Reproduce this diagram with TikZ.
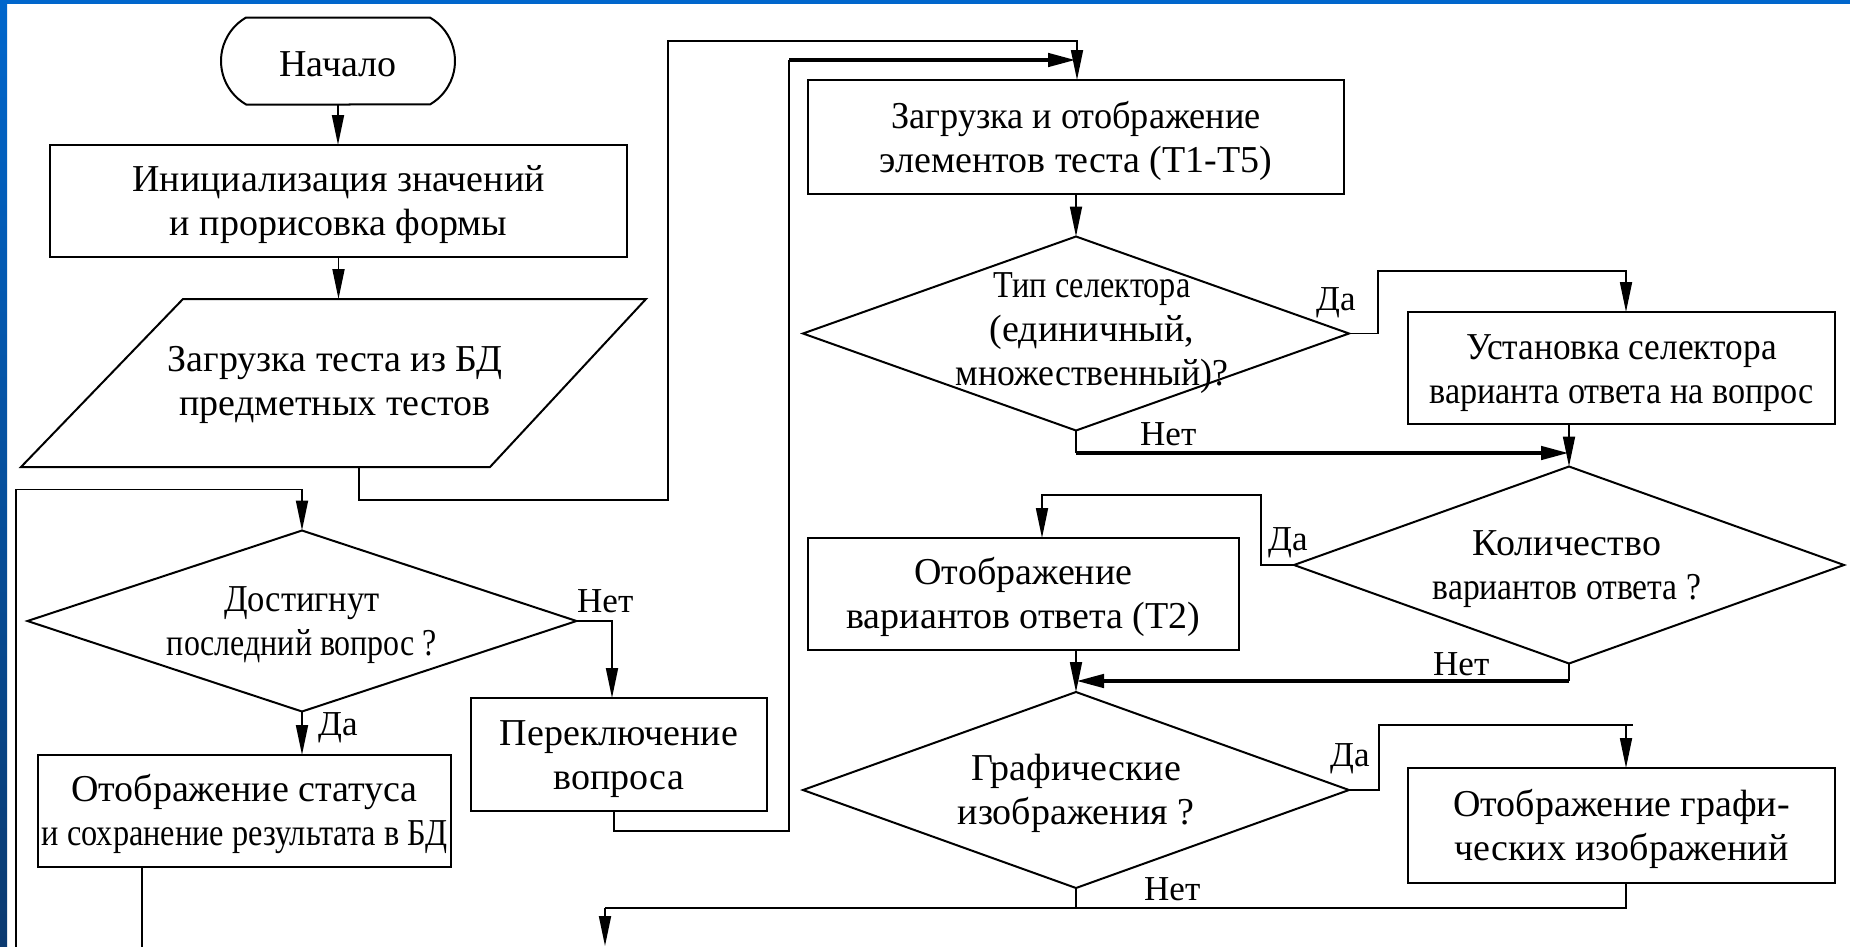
\documentclass[tikz,border=0pt]{standalone}
\usepackage{fontspec}
\setmainfont{Liberation Serif}
\usetikzlibrary{shapes.geometric,shapes.misc,arrows.meta,calc}

\definecolor{slideblue}{HTML}{0066CC}
\definecolor{slidenavy}{HTML}{0B3A70}

% horizontally condensed line of text
\newcommand{\nrw}[2]{\scalebox{#1}[1]{#2}}

\tikzset{
  base/.style={draw=black, line width=2bp, inner sep=0pt, outer sep=0pt},
  procbox/.style={base, rectangle},
  termbox/.style={base, rounded rectangle, rounded rectangle arc length=120},
  decbox/.style={base, diamond},
  outline/.style={draw=black, line width=2bp, line join=miter},
  txt/.style={inner sep=0pt, font=\fontsize{38bp}{44bp}\selectfont, align=center},
  lbl/.style={inner sep=0pt, anchor=base west, font=\fontsize{35bp}{40bp}\selectfont},
  flow/.style={line width=1.8bp, -{Triangle[length=30bp,width=12bp]}},
  wire/.style={line width=1.8bp},
  wirebold/.style={line width=2.4bp},
  heavy/.style={line width=4.5bp, -{Triangle[length=28bp,width=13bp]}},
}

\begin{document}
\begin{tikzpicture}[x=1bp, y=-1bp]
  % slide background with frame
  \useasboundingbox (0,0) rectangle (1850,946);
  \fill[white] (0,0) rectangle (1850,946);
  \shade[top color=slideblue, bottom color=slidenavy] (0,0) rectangle (7,946);
  \fill[slideblue] (0,0) rectangle (1850,4);

  % ---- left column ----
  \node[termbox, minimum width=234bp, minimum height=87bp] (start) at (338,61) {};
  \node[txt] (startt) at ([yshift=-3bp]start.center) {Начало};

  \node[procbox, minimum width=577bp, minimum height=112bp] (init) at (338.5,201) {};
  \node[txt] (initt) at ([yshift=-4bp]init.center)
    {Инициализация значений\\и прорисовка формы};

  % data input (parallelogram)
  \coordinate (ioTL) at (183,299);
  \coordinate (ioTR) at (646,299);
  \coordinate (ioBR) at (490,467);
  \coordinate (ioBL) at (21,467);
  \draw[outline] (ioBL) -- (ioBR) -- (ioTR) -- (ioTL) -- cycle;
  \node[txt] (load) at (335,385) {Загрузка теста из БД\\предметных тестов};

  \node[decbox, minimum width=549bp, minimum height=181bp] (d1) at (302,621) {};
  \node[txt] (d1t) at ([yshift=-4bp]d1.center)
    {\nrw{0.91}{Достигнут}\\\nrw{0.84}{последний вопрос ?}};

  \node[procbox, minimum width=413bp, minimum height=112bp] (status) at (244.5,811) {};
  \node[txt] (statust) at ([yshift=-3bp]status.center)
    {Отображение статуса\\\nrw{0.85}{и сохранение результата в БД}};

  \node[procbox, minimum width=296bp, minimum height=113bp] (next) at (619,754.5) {};
  \node[txt] (nextt) at ([yshift=-5bp]next.center) {Переключение\\вопроса};

  % ---- right part ----
  \node[procbox, minimum width=536bp, minimum height=114bp] (fetch) at (1076,137) {};
  \node[txt] (fetcht) at ([yshift=-4bp]fetch.center)
    {\nrw{0.955}{Загрузка и отображение}\\элементов теста (Т1-Т5)};

  \node[decbox, minimum width=546bp, minimum height=194bp] (d2) at (1076,333.5) {};
  \node[txt] (d2t) at ([xshift=16bp]d2.center)
    {\nrw{0.85}{Тип селектора}\\(единичный,\\\nrw{0.94}{множественный)?}};

  \node[procbox, minimum width=427bp, minimum height=112bp] (setsel) at (1621.5,368) {};
  \node[txt] (setselt) at ([yshift=-5bp]setsel.center)
    {\nrw{0.93}{Установка селектора}\\\nrw{0.9}{варианта ответа на вопрос}};

  \node[decbox, minimum width=550bp, minimum height=197bp] (d3) at (1569,565) {};
  \node[txt] (d3t) at ([xshift=-2bp,yshift=-4bp]d3.center)
    {Количество\\\nrw{0.885}{вариантов ответа ?}};

  \node[procbox, minimum width=431bp, minimum height=112bp] (showvar) at (1023.5,594) {};
  \node[txt] (showvart) at ([yshift=-3bp]showvar.center)
    {Отображение\\вариантов ответа (Т2)};

  \node[decbox, minimum width=546bp, minimum height=196bp] (d4) at (1076,790) {};
  \node[txt] (d4t) at ([yshift=-3bp]d4.center) {Графические\\изображения ?};

  \node[procbox, minimum width=427bp, minimum height=115bp] (showimg) at (1621.5,825.5) {};
  \node[txt] (showimgt) at ([yshift=-3bp]showimg.center)
    {Отображение графи-\\ческих изображений};

  % branch labels
  \node[lbl] (d1no)  at (577,612)  {Нет};
  \node[lbl] (d1yes) at (318,735)  {Да};
  \node[lbl] (d2yes) at (1316,310) {Да};
  \node[lbl] (d2no)  at (1140,445) {Нет};
  \node[lbl] (d3yes) at (1268,550) {Да};
  \node[lbl] (d3no)  at (1433,675) {Нет};
  \node[lbl] (d4yes) at (1330,766) {Да};
  \node[lbl] (d4no)  at (1144,900) {Нет};

  % bend points of the connectors
  \coordinate (loadin) at ($(ioTL)!0.336!(ioTR)$);
  \coordinate (loadout) at ($(ioBL)!0.72!(ioBR)$);
  \coordinate (busA) at (668,500);
  \coordinate (busB) at (1077,41);
  \coordinate (loopin) at (16,952);
  \coordinate (statend) at (142,952);
  \coordinate (loopB) at (789,831);
  \coordinate (loopC) at (789,60);
  \coordinate (d2y) at (1378,271);
  \coordinate (d2n) at (1076,453);
  \coordinate (d3y) at (1261,495);
  \coordinate (d3n) at (1569,681);
  \coordinate (d4y) at (1379,725);
  \coordinate (d4ye) at (1633,725);
  \coordinate (imgin) at ([xshift=4.5bp]showimg.north);
  \coordinate (imgout) at ([xshift=4.5bp]showimg.south);
  \coordinate (botbend) at (605,908);
  \coordinate (botend) at (605,946);

  % connectors, left column
  \draw[flow] (start.south) -- (start.south |- init.north);
  \draw[flow] (init.south) -- (init.south |- loadin);
  \draw[flow] (loadout) |- (busA) |- (busB) -- (busB |- fetch.north);
  \draw[flow] (loopin) |- ([yshift=41bp]d1.north) -- (d1.north);
  \draw[flow] (d1.south) -- (d1.south |- status.north);
  \draw[flow] (d1.east) -| ([xshift=-7bp]next.north);
  \draw[wire] (statend |- status.south) -- (statend);
  \draw[wire] ([xshift=-5bp]next.south) |- (loopB) -- (loopC);
  \draw[heavy] (loopC) -- (loopC -| fetch.north);

  % connectors, right part
  \draw[flow] (fetch.south) -- (d2.north);
  \draw[flow] (d2.east) -| (d2y) -| ([xshift=4.5bp]setsel.north);
  \draw[wire] (d2.south) -- (d2n);
  \draw[heavy] (d2n) -- (d2n -| d3.north);
  \draw[flow] (d3.north |- setsel.south) -- (d3.north);
  \draw[flow] (d3.west) -| (d3y) -| ([xshift=18.5bp]showvar.north);
  \draw[wire] (d3.south) -- (d3n);
  \draw[heavy] (d3n) -- (d3n -| d4.north);
  \draw[flow] (d4.north |- showvar.south) -- (d4.north);
  \draw[wire] (d4.east) -| (d4y) -- (d4ye);
  \draw[flow] (imgin |- d4y) -- (imgin);
  \draw[wirebold] (imgout) |- (botbend);
  \draw[wire] (d4.south) -- (d4.south |- botbend);
  \draw[flow] (botbend) -- (botend);
\end{tikzpicture}
\end{document}
